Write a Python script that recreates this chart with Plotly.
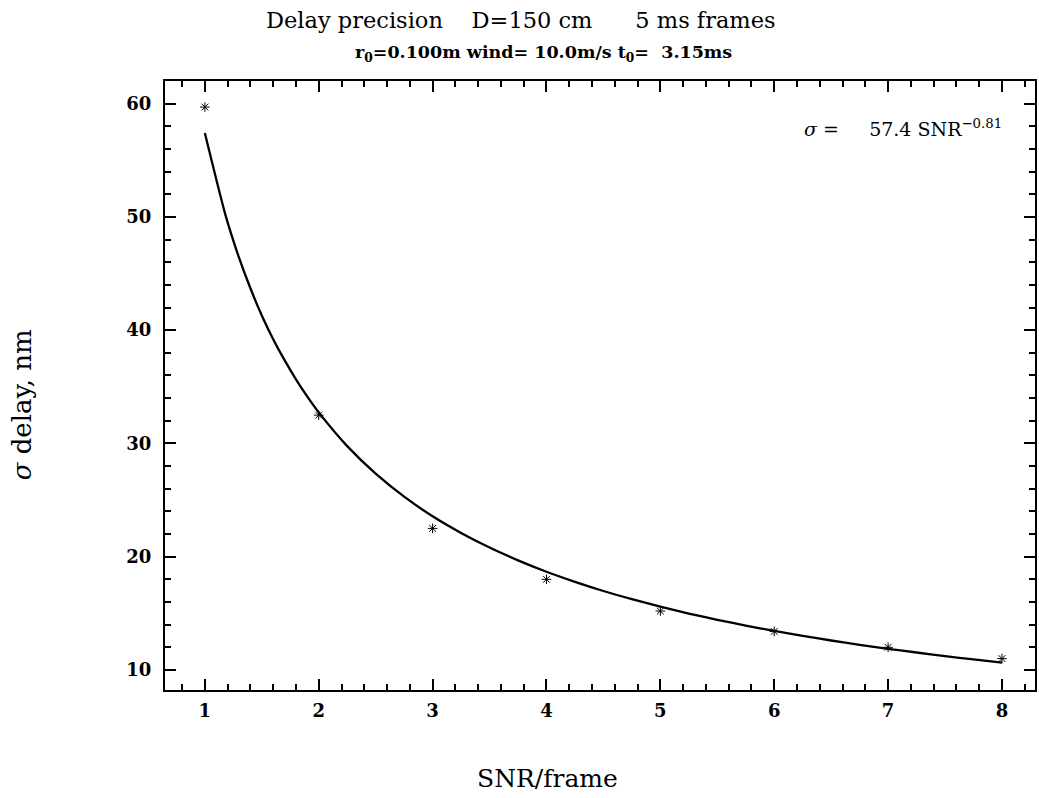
import plotly.graph_objects as go

# measured points
snr = [1, 2, 3, 4, 5, 6, 7, 8]
sigma = [59.7, 32.5, 22.5, 18.0, 15.2, 13.4, 12.0, 11.0]

# fitted curve
fit_x = [1.0, 1.18, 1.3, 1.4, 1.5, 1.6, 1.7, 1.8, 1.9, 2.0, 2.25, 2.5, 2.75, 3.0,
         3.25, 3.5, 3.75, 4.0, 4.25, 4.5, 4.75, 5.0, 5.25, 5.5, 5.75, 6.0,
         6.25, 6.5, 6.75, 7.0, 7.25, 7.5, 7.75, 8.0]
fit_y = [57.4, 50.2, 46.4, 43.7, 41.3, 39.2, 37.35, 35.66, 34.13, 32.74, 29.76, 27.33, 25.30, 23.57,
         22.10, 20.81, 19.68, 18.67, 17.78, 16.97, 16.25, 15.59, 14.98, 14.43, 13.92, 13.44,
         13.01, 12.60, 12.22, 11.87, 11.54, 11.22, 10.93, 10.65]

x_ticks = [1, 2, 3, 4, 5, 6, 7, 8]
y_ticks = [10, 20, 30, 40, 50, 60]

NB = "\u00a0"
SERIF = "DejaVu Serif"

fig = go.Figure()
fig.add_trace(go.Scatter(x=fit_x, y=fit_y, mode="lines", line_shape="spline",
                         line=dict(color="black", width=2.3, smoothing=0.6), showlegend=False))
fig.add_trace(go.Scatter(x=snr, y=sigma, mode="markers",
                         marker=dict(symbol="asterisk-open", size=8, color="black",
                                     line=dict(color="black", width=1)),
                         showlegend=False))

axis_common = dict(showline=True, linecolor="black", linewidth=2, mirror="ticks",
                   ticks="inside", ticklen=11, tickwidth=2, tickcolor="black",
                   showgrid=False, zeroline=False,
                   tickfont=dict(family=SERIF, size=18, color="black"))

fig.update_xaxes(range=[0.65, 8.29], tickvals=x_ticks,
                 ticktext=["<b>%d</b>" % v for v in x_ticks],
                 ticklabelstandoff=3,
                 minor=dict(ticks="inside", ticklen=6, tickwidth=2, tickcolor="black", dtick=0.2, showgrid=False),
                 **axis_common)
fig.update_yaxes(range=[8.23, 62.0], tickvals=y_ticks,
                 ticktext=["<b>%d</b>" % v for v in y_ticks],
                 ticklabelstandoff=8,
                 minor=dict(ticks="inside", ticklen=6, tickwidth=2, tickcolor="black", dtick=2, showgrid=False),
                 **axis_common)

fig.update_layout(
    width=1039, height=798,
    margin=dict(l=165, r=2, t=81, b=108),
    paper_bgcolor="white", plot_bgcolor="white",
    showlegend=False,
)

pl, pr, pt, pb = 165, 1037, 81, 690


def px(xp):
    return (xp - pl) / (pr - pl)


def py(yp):
    return (pb - yp) / (pb - pt)


fig.add_annotation(text="Delay precision" + NB*4 + "D=150 cm" + NB*6 + "5 ms frames",
                   x=px(522), y=py(20), xref="paper", yref="paper", showarrow=False,
                   xanchor="center", yanchor="middle",
                   font=dict(family=SERIF, size=22.5, color="black"))
fig.add_annotation(text="<b>r<sub>0</sub>=0.100m wind=" + NB + "10.0m/s t<sub>0</sub>=" + NB*2 + "3.15ms</b>",
                   x=px(544), y=py(53), xref="paper", yref="paper", showarrow=False,
                   xanchor="center", yanchor="middle",
                   font=dict(family=SERIF, size=17.5, color="black"))
fig.add_annotation(text="<i>σ</i>" + NB + "=" + NB*5 + "57.4 SNR<sup>−0.81</sup>",
                   x=px(1006), y=py(128), xref="paper", yref="paper", showarrow=False,
                   xanchor="right", yanchor="middle",
                   font=dict(family=SERIF, size=19, color="black"))
fig.add_annotation(text="SNR/frame",
                   x=px(548), y=py(778), xref="paper", yref="paper", showarrow=False,
                   xanchor="center", yanchor="middle",
                   font=dict(family=SERIF, size=25, color="black"))
fig.add_annotation(text="<i>σ</i> delay, nm",
                   x=px(22), y=py(405), xref="paper", yref="paper", showarrow=False,
                   xanchor="center", yanchor="middle", textangle=-90,
                   font=dict(family=SERIF, size=26, color="black"))

fig.write_html("out.html")
